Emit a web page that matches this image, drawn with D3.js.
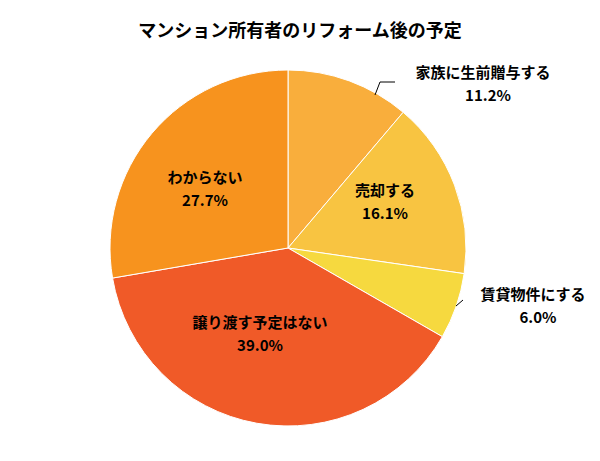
<!DOCTYPE html>
<html><head><meta charset="utf-8">
<script src="https://cdn.jsdelivr.net/npm/d3@7"></script>
<style>body{margin:0;background:#fff;font-family:"Noto Sans CJK JP",sans-serif;}</style>
</head><body><div id="chart"></div>
<script>
// data
const categories = ['家族に生前贈与する', '売却する', '賃貸物件にする', '譲り渡す予定はない', 'わからない'];
const values = [11.2, 16.1, 6.0, 39.0, 27.7];
const colors = ['#F9AE3C', '#F8C441', '#F6D93F', '#F05A28', '#F7931E'];

const width = 600, height = 461;
const cx = 288, cy = 248, radius = 178;

const svg = d3.select('#chart').append('svg')
    .attr('width', width).attr('height', height);

svg.append('text')
    .attr('x', 300).attr('y', 37)
    .attr('text-anchor', 'middle')
    .style('font-size', '18px').style('font-weight', 'bold')
    .text('マンション所有者のリフォーム後の予定');

const g = svg.append('g').attr('transform', `translate(${cx},${cy})`);
const pie = d3.pie().value(d => d).sort(null);
const arc = d3.arc().innerRadius(0).outerRadius(radius);
const arcs = pie(values);

g.selectAll('path').data(arcs).enter().append('path')
    .attr('d', arc)
    .attr('fill', (d, i) => colors[i])
    .attr('stroke', '#fff').attr('stroke-width', 1);

// label positions (relative to centre)
const labelPos = [
    { x: 195, y: -170, anchor: 'middle', out: true },
    { x: 97, y: -52, anchor: 'middle' },
    { x: 245, y: 52, anchor: 'middle', out: true },
    { x: -28, y: 80, anchor: 'middle' },
    { x: -83, y: -65, anchor: 'middle' }
];

arcs.forEach((d, i) => {
    const p = labelPos[i];
    const t = g.append('text')
        .attr('text-anchor', p.anchor)
        .style('font-size', '15px').style('font-weight', 'bold');
    t.append('tspan').attr('x', p.x).attr('y', p.y).text(categories[i]);
    t.append('tspan').attr('x', i === 0 ? p.x + 5 : (i === 2 ? p.x + 5 : p.x)).attr('y', p.y + 23)
        .text(values[i].toFixed(1) + '%');
});

// leader lines
g.append('polyline')
    .attr('points', [[87, -153], [92, -166], [107, -166]].join(' '))
    .attr('fill', 'none').attr('stroke', '#000').attr('stroke-width', 1);
g.append('polyline')
    .attr('points', [[168, 58], [175, 52]].join(' '))
    .attr('fill', 'none').attr('stroke', '#000').attr('stroke-width', 1);
</script>
</body></html>
